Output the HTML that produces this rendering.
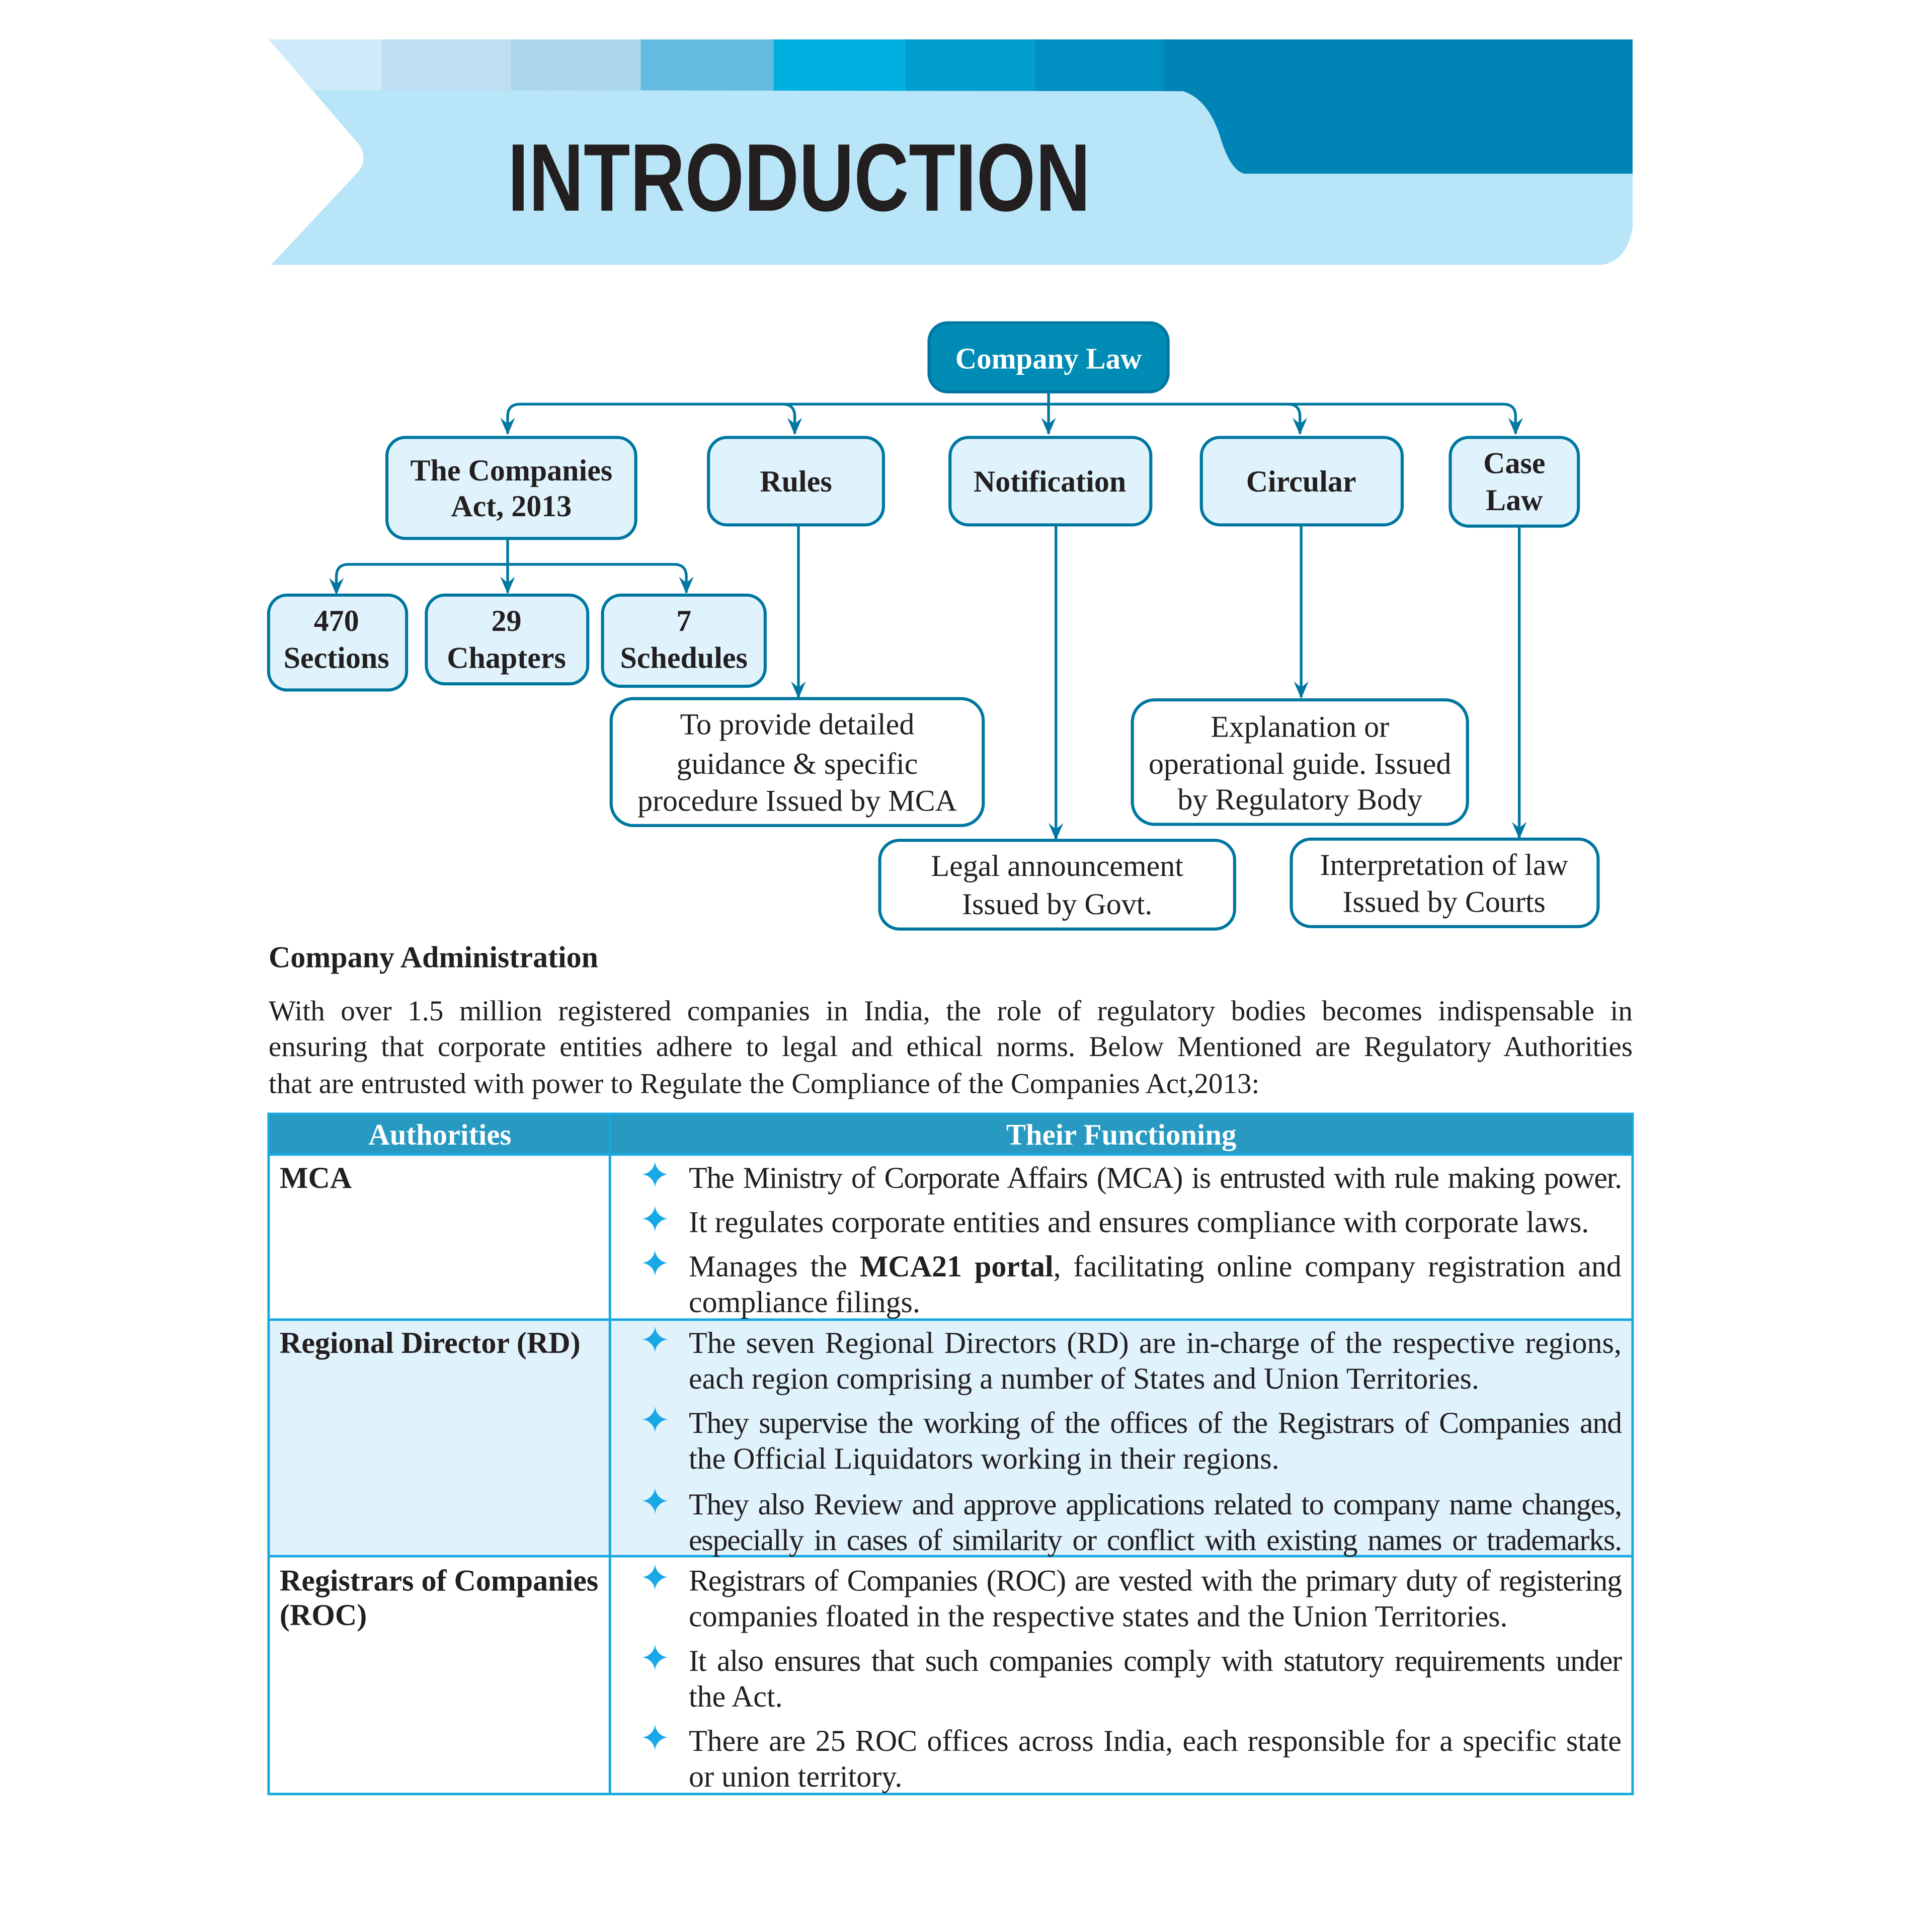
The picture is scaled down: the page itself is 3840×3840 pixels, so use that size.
<!DOCTYPE html>
<html><head><meta charset="utf-8"><style>
html,body{margin:0;padding:0;background:#fff;}
body{width:3840px;height:3840px;overflow:hidden;position:relative;}
#s{position:absolute;left:0;top:0;width:1568px;height:1568px;transform:scale(2.449);transform-origin:0 0;font-family:"Liberation Serif",serif;color:#231f20;}
.t{position:absolute;white-space:nowrap;font-size:24.5px;line-height:1;}
.p{font-size:23.3px;}
.j{text-align:justify;text-align-last:justify;}
.n{letter-spacing:-0.5px;}
.b{font-weight:bold;}
.d{position:absolute;color:#18a8e8;font-size:30px;line-height:1;}
</style></head><body><div id="s">
<svg width="1568" height="1568" viewBox="0 0 1568 1568" style="position:absolute;left:0;top:0">
<defs><marker id="a" markerWidth="12" markerHeight="14" refX="6" refY="13" orient="0" markerUnits="userSpaceOnUse"><path d="M0,0 L6,5 L12,0 L6,14 Z" fill="#0077a0"/></marker></defs>
<rect x="218" y="32" width="100" height="42" fill="#cfeafa"/>
<rect x="310" y="32" width="110" height="42" fill="#bddff0"/>
<rect x="415" y="32" width="110" height="42" fill="#abd5e8"/>
<rect x="520" y="32" width="112" height="42" fill="#63bbe0"/>
<rect x="628" y="32" width="112" height="42" fill="#00b0e0"/>
<rect x="735" y="32" width="110" height="42" fill="#009fcf"/>
<rect x="840" y="32" width="110" height="42" fill="#0090c2"/>
<rect x="945" y="32" width="380" height="110" fill="#0084b5"/>
<path d="M218,73 L960,74 Q980,80 990,110 Q998,138 1010,141 L1325,141 L1325,185 Q1320,212 1300,215 L220,215 L218,120 Z" fill="#b8e5f8"/>
<path d="M205,25 L218,25 L218,32 L292,118 Q298,128 292,138 L220,215 L205,215 Z" fill="#fff"/>
<text x="412" y="171" font-family="Liberation Sans Narrow, Liberation Sans, sans-serif" font-weight="bold" font-size="78" textLength="473" lengthAdjust="spacingAndGlyphs" fill="#231f20">INTRODUCTION</text>
<g fill="none" stroke="#0077a0" stroke-width="2.2">
<path d="M851,318 V352" marker-end="url(#a)"/>
<path d="M412,352 V338 Q412,328 422,328 H1220 Q1230,328 1230,338 V352" marker-end="url(#a)"/>
<path d="M635,328 Q645,328 645,338 V352" marker-end="url(#a)"/>
<path d="M1045,328 Q1055,328 1055,338 V352" marker-end="url(#a)"/>
<path d="M412,437 V481" marker-end="url(#a)"/>
<path d="M273,481 V468 Q273,458 283,458 H547 Q557,458 557,468 V481" marker-end="url(#a)"/>
<path d="M648,426 V566" marker-end="url(#a)"/>
<path d="M857,426 V681" marker-end="url(#a)"/>
<path d="M1056,426 V566" marker-end="url(#a)"/>
<path d="M1233,427 V680" marker-end="url(#a)"/>
</g>
<path d="M406,339 L412,344 L418,339 L412,353 Z M267,469 L273,474 L279,469 L273,483 Z" fill="#0077a0"/>
<g stroke="#0077a0" stroke-width="2.5">
<rect x="754" y="262" width="194" height="56" rx="15" fill="#008cb4"/>
<g fill="#e0f3fc">
<rect x="314" y="355" width="202" height="82" rx="15"/>
<rect x="575" y="355" width="142" height="71" rx="15"/>
<rect x="771" y="355" width="163" height="71" rx="15"/>
<rect x="975" y="355" width="163" height="71" rx="15"/>
<rect x="1177" y="355" width="104" height="72" rx="15"/>
<rect x="218" y="483" width="112" height="77" rx="15"/>
<rect x="346" y="483" width="131" height="72" rx="15"/>
<rect x="489" y="483" width="132" height="74" rx="15"/>
</g>
<g fill="#fff">
<rect x="496" y="567" width="302" height="103" rx="18"/>
<rect x="714" y="682" width="288" height="72" rx="16"/>
<rect x="919" y="568" width="272" height="101" rx="18"/>
<rect x="1048" y="681" width="249" height="71" rx="16"/>
</g>
</g>
<g font-family="Liberation Serif, serif" font-size="24.5" text-anchor="middle" fill="#231f20">
<text x="851" y="299" fill="#fff" font-weight="bold" font-size="24">Company Law</text>
<g font-weight="bold">
<text x="415" y="390">The Companies</text><text x="415" y="419">Act, 2013</text>
<text x="646" y="399">Rules</text>
<text x="852" y="399">Notification</text>
<text x="1056" y="399">Circular</text>
<text x="1229" y="384">Case</text><text x="1229" y="414">Law</text>
<text x="273" y="512">470</text><text x="273" y="542">Sections</text>
<text x="411" y="512">29</text><text x="411" y="542">Chapters</text>
<text x="555" y="512">7</text><text x="555" y="542">Schedules</text>
</g>
<text x="647" y="596">To provide detailed</text>
<text x="647" y="628">guidance &amp; specific</text>
<text x="647" y="658">procedure Issued by MCA</text>
<text x="858" y="711">Legal announcement</text>
<text x="858" y="742">Issued by Govt.</text>
<text x="1055" y="598">Explanation or</text>
<text x="1055" y="628">operational guide. Issued</text>
<text x="1055" y="657">by Regulatory Body</text>
<text x="1172" y="710">Interpretation of law</text>
<text x="1172" y="740">Issued by Courts</text>
</g>
<rect x="218" y="904" width="1107" height="33" fill="#2899c0"/>
<rect x="218" y="1071" width="1107" height="192" fill="#e0f2fb"/>
<g stroke="#17a8e0" stroke-width="2" fill="none">
<rect x="218" y="904" width="1107" height="552"/>
<line x1="495" y1="904" x2="495" y2="1456"/>
<line x1="218" y1="937" x2="1325" y2="937"/>
<line x1="218" y1="1071" x2="1325" y2="1071"/>
<line x1="218" y1="1263" x2="1325" y2="1263"/>
</g>
<g font-family="Liberation Serif, serif" font-size="24" font-weight="bold" fill="#fff" text-anchor="middle">
<text x="357" y="929">Authorities</text><text x="910" y="929">Their Functioning</text>
</g>
</svg>
<div class="t b" style="left:218px;top:766px">Company Administration</div>
<div class="t p j" style="left:218px;top:810px;width:1107px">With over 1.5 million registered companies in India, the role of regulatory bodies becomes indispensable in</div>
<div class="t p j" style="left:218px;top:839px;width:1107px">ensuring that corporate entities adhere to legal and ethical norms. Below Mentioned are Regulatory Authorities</div>
<div class="t p" style="left:218px;top:869px">that are entrusted with power to Regulate the Compliance of the Companies Act,2013:</div>

<div class="t b" style="left:227px;top:945px">MCA</div>
<div class="t b" style="left:227px;top:1079px">Regional Director (RD)</div>
<div class="t b" style="left:227px;top:1272px">Registrars of Companies</div>
<div class="t b" style="left:227px;top:1300px">(ROC)</div>

<div class="d" style="left:519px;top:940px">✦</div>
<div class="d" style="left:519px;top:976px">✦</div>
<div class="d" style="left:519px;top:1012px">✦</div>
<div class="d" style="left:519px;top:1074px">✦</div>
<div class="d" style="left:519px;top:1139px">✦</div>
<div class="d" style="left:519px;top:1205px">✦</div>
<div class="d" style="left:519px;top:1267px">✦</div>
<div class="d" style="left:519px;top:1332px">✦</div>
<div class="d" style="left:519px;top:1397px">✦</div>

<div class="t j n" style="left:559px;top:945px;width:757px">The Ministry of Corporate Affairs (MCA) is entrusted with rule making power.</div>
<div class="t" style="left:559px;top:981px">It regulates corporate entities and ensures compliance with corporate laws.</div>
<div class="t j" style="left:559px;top:1017px;width:757px">Manages the <b>MCA21 portal</b>, facilitating online company registration and</div>
<div class="t" style="left:559px;top:1046px">compliance filings.</div>
<div class="t j" style="left:559px;top:1079px;width:757px">The seven Regional Directors (RD) are in-charge of the respective regions,</div>
<div class="t" style="left:559px;top:1108px">each region comprising a number of States and Union Territories.</div>
<div class="t j n" style="left:559px;top:1144px;width:757px">They supervise the working of the offices of the Registrars of Companies and</div>
<div class="t" style="left:559px;top:1173px">the Official Liquidators working in their regions.</div>
<div class="t j n" style="left:559px;top:1210px;width:757px">They also Review and approve applications related to company name changes,</div>
<div class="t j n" style="left:559px;top:1239px;width:757px">especially in cases of similarity or conflict with existing names or trademarks.</div>
<div class="t j n" style="left:559px;top:1272px;width:757px">Registrars of Companies (ROC) are vested with the primary duty of registering</div>
<div class="t" style="left:559px;top:1301px">companies floated in the respective states and the Union Territories.</div>
<div class="t j n" style="left:559px;top:1337px;width:757px">It also ensures that such companies comply with statutory requirements under</div>
<div class="t" style="left:559px;top:1366px">the Act.</div>
<div class="t j" style="left:559px;top:1402px;width:757px">There are 25 ROC offices across India, each responsible for a specific state</div>
<div class="t" style="left:559px;top:1431px">or union territory.</div>
</div></body></html>
